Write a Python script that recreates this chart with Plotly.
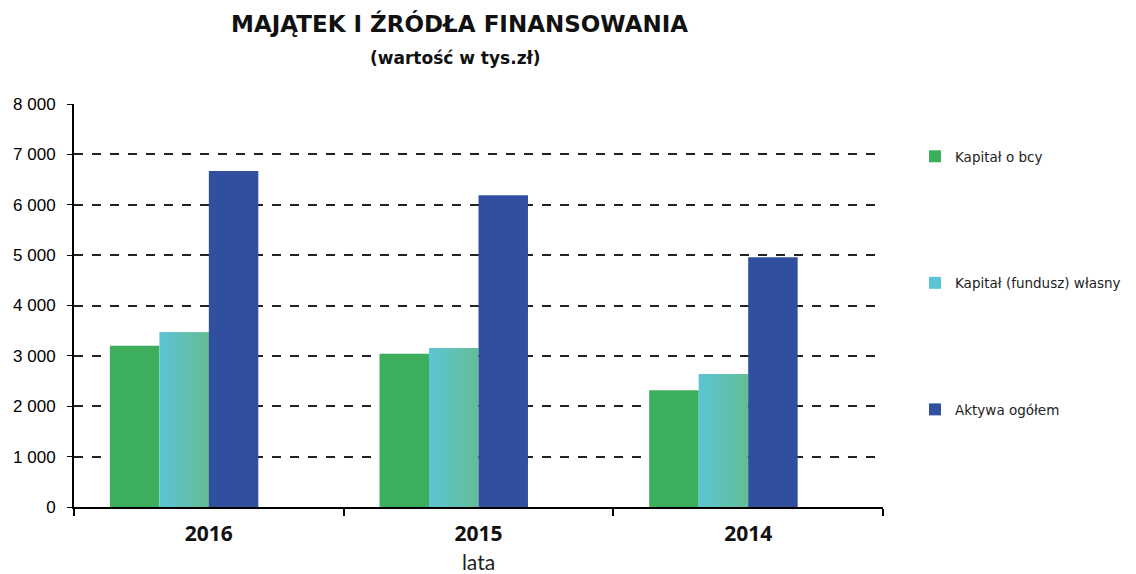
import plotly.graph_objects as go

# Values in thousands of PLN
lata = ["2016", "2015", "2014"]
kapital_obcy = [3200, 3040, 2320]
kapital_wlasny = [3470, 3155, 2640]
aktywa_ogolem = [6670, 6190, 4960]

y_ticks = [0, 1000, 2000, 3000, 4000, 5000, 6000, 7000, 8000]
y_tick_text = ["0", "1 000", "2 000", "3 000", "4 000", "5 000", "6 000", "7 000", "8 000"]

GREEN = "#3DAE5C"
BLUE = "#30509F"
TEAL_LEFT = (93, 196, 212)
TEAL_RIGHT = (100, 189, 149)

W = 0.1835  # width of one bar in category units
N_STRIPS = 30

# plot area in pixels
TOP, BOTTOM = 104, 507


def py(pix):
    """Vertical pixel position -> paper coordinate."""
    return (BOTTOM - pix) / (BOTTOM - TOP)


def px(pix):
    """Horizontal pixel position -> paper coordinate."""
    return (pix - 74) / (883 - 74)


fig = go.Figure()

fig.add_trace(go.Bar(
    x=lata, y=kapital_obcy, name="Kapitał o bcy",
    width=W, offset=-2 * W,
    marker=dict(color=GREEN, line=dict(width=0)),
    legendgroup="a",
))

# Equity bar drawn as thin vertical strips to give a horizontal colour gradient
xs, ys, offs, widths, cols = [], [], [], [], []
sw = W / N_STRIPS
for ci, cat in enumerate(lata):
    for k in range(N_STRIPS):
        t = k / (N_STRIPS - 1)
        r, g, b = (round(TEAL_LEFT[j] + (TEAL_RIGHT[j] - TEAL_LEFT[j]) * t) for j in range(3))
        xs.append(cat)
        ys.append(kapital_wlasny[ci])
        offs.append(-W + k * sw)
        widths.append(sw * (1.6 if k < N_STRIPS - 1 else 1.0))
        cols.append(f"rgb({r},{g},{b})")

fig.add_trace(go.Bar(
    x=xs, y=ys, name="Kapitał (fundusz) własny",
    width=widths, offset=offs,
    marker=dict(color=cols, line=dict(width=0)),
    legendgroup="b",
))

fig.add_trace(go.Bar(
    x=lata, y=aktywa_ogolem, name="Aktywa ogółem",
    width=W, offset=0,
    marker=dict(color=BLUE, line=dict(width=0)),
    legendgroup="c",
))

fig.update_layout(
    width=1136, height=574,
    margin=dict(l=74, r=253, t=104, b=67, autoexpand=False),
    plot_bgcolor="white", paper_bgcolor="white",
    barmode="overlay",
    showlegend=True,
    legend=dict(
        x=px(915), y=py(141), xanchor="left", yanchor="top",
        font=dict(family="DejaVu Sans", size=13.5, color="#222"),
        tracegroupgap=106, traceorder="grouped",
        itemwidth=30,
    ),
    annotations=[
        dict(text="<b>MAJĄTEK I ŹRÓDŁA FINANSOWANIA</b>", xref="paper", yref="paper",
             x=px(459), y=py(23), yanchor="middle",
             showarrow=False, font=dict(family="DejaVu Sans", size=23, color="#111")),
        dict(text="<b>(wartość w tys.zł)</b>", xref="paper", yref="paper",
             x=px(455), y=py(58), yanchor="middle",
             showarrow=False, font=dict(family="DejaVu Sans", size=17, color="#111")),
    ],
)

fig.update_yaxes(
    range=[0, 8000],
    tickvals=y_ticks, ticktext=y_tick_text,
    automargin=False,
    showline=True, linecolor="black", linewidth=2,
    ticks="outside", ticklen=5, tickcolor="black", tickwidth=1,
    ticklabelstandoff=8,
    showgrid=True, gridcolor="#222", griddash="dash", gridwidth=1.5,
    zeroline=False,
    tickfont=dict(family="Liberation Sans", size=17, color="black"),
)
fig.update_xaxes(
    automargin=False,
    showline=True, linecolor="black", linewidth=2,
    ticks="outside", ticklen=7, tickcolor="black", tickwidth=1.5,
    tickson="boundaries",
    ticklabelstandoff=7,
    tickfont=dict(family="Open Sans", size=21, color="#111", weight="bold"),
    title=dict(text="lata", font=dict(family="Lato", size=21, color="#222"), standoff=13),
)

fig.write_html("out.html")
